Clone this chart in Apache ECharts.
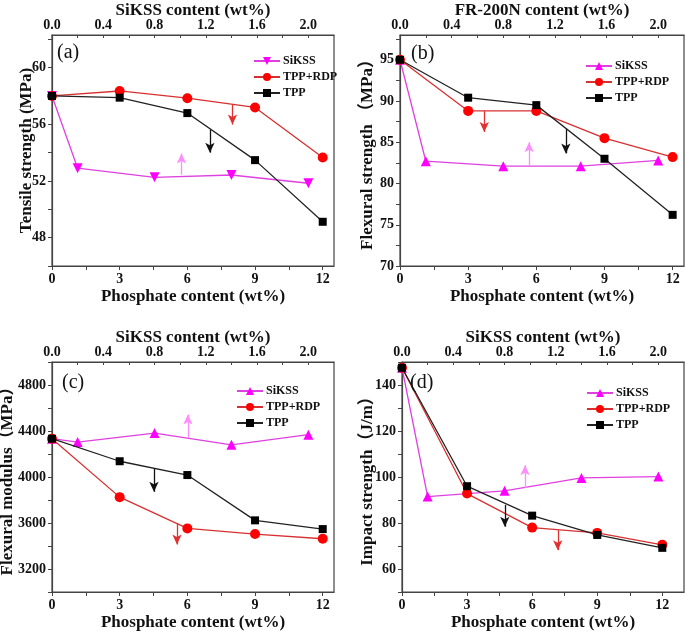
<!DOCTYPE html>
<html>
<head>
<meta charset="utf-8">
<script src="https://cdn.jsdelivr.net/npm/echarts@6/dist/echarts.min.js"></script>
<style>
  html, body { margin: 0; padding: 0; background: #fff; }
  #main { width: 685px; height: 631px; }
</style>
</head>
<body>
<div id="main"></div>
<script>
var chart = echarts.init(document.getElementById('main'));

// x positions
var phosphate = [0, 3, 6, 9, 12];
var siksContent = [0, 0.2, 0.8, 1.4, 2.0];

// (a) tensile strength, MPa
var aSiKSS = [58.0, 52.9, 52.26, 52.42, 51.84];
var aTppRdp = [58.0, 58.35, 57.84, 57.19, 53.65];
var aTpp = [58.0, 57.88, 56.79, 53.47, 49.12];
// (b) flexural strength, MPa
var bSiKSS = [95.0, 82.7, 82.1, 82.1, 82.8];
var bTppRdp = [95.0, 88.8, 88.8, 85.5, 83.2];
var bTpp = [95.0, 90.4, 89.5, 83.0, 76.2];
// (c) flexural modulus, MPa
var cSiKSS = [4333, 4304, 4382, 4280, 4368];
var cTppRdp = [4333, 3825, 3553, 3504, 3463];
var cTpp = [4333, 4137, 4017, 3623, 3547];
// (d) impact strength, J/m
var dSiKSS = [147.5, 91.5, 94.0, 99.6, 100.2];
var dTppRdp = [147.5, 92.8, 78.0, 75.7, 70.5];
var dTpp = [147.5, 96.0, 83.2, 74.8, 69.2];

// arrows [x, yFrom, yTo] in order SiKSS (top axis), TPP+RDP, TPP
var aArrows = [[1.01, 52.44, 53.93], [8.0, 57.37, 55.98], [7.0, 55.63, 54.0]];
var bArrows = [[1.0, 82.24, 85.0], [3.71, 88.78, 86.24], [7.3, 86.64, 83.65]];
var cArrows = [[1.06, 4339, 4543], [5.54, 3594, 3413], [4.52, 4070, 3871]];
var dArrows = [[0.96, 95.2, 105.1], [7.18, 76.9, 68.2], [4.74, 87.9, 78.4]];

// ticks and labels
var bottomTicks = [0, 1.5, 3, 4.5, 6, 7.5, 9, 10.5, 12];
var bottomLabels = [0, 3, 6, 9, 12];
var topTicks = [0, 0.2, 0.4, 0.6, 0.8, 1.0, 1.2, 1.4, 1.6, 1.8, 2.0];
var topLabels = [0, 0.4, 0.8, 1.2, 1.6, 2.0];
var aYTicks = [46, 48, 50, 52, 54, 56, 58, 60, 62];
var aYLabels = [48, 52, 56, 60];
var bYTicks = [70, 72.5, 75, 77.5, 80, 82.5, 85, 87.5, 90, 92.5, 95, 97.5];
var bYLabels = [70, 75, 80, 85, 90, 95];
var cYTicks = [3000, 3200, 3400, 3600, 3800, 4000, 4200, 4400, 4600, 4800, 5000];
var cYLabels = [3200, 3600, 4000, 4400, 4800];
var dYTicks = [50, 60, 70, 80, 90, 100, 110, 120, 130, 140, 150];
var dYLabels = [60, 80, 100, 120, 140];

var SERIF = '"Liberation Serif", "Times New Roman", "Noto Sans CJK SC", serif';
var AX = '#444';

var grids = [
    {left: 52, top: 35, width: 282, height: 231},
    {left: 400, top: 35, width: 284, height: 231},
    {left: 52, top: 362, width: 282, height: 230},
    {left: 402, top: 362, width: 282, height: 230}
];
grids.forEach(function (g) {
    g.show = true;
    g.borderColor = AX;
    g.borderWidth = 1.2;
    g.backgroundColor = 'transparent';
    g.containLabel = false;
    g.outerBoundsMode = 'none';
});

function plain(v) { return String(v); }

var nameFont = {fontFamily: SERIF, fontWeight: 'bold', fontSize: 17, color: '#111'};

function bottomAxis(i, max) {
    return {
        type: 'value', gridIndex: i, position: 'bottom', min: 0, max: max,
        name: 'Phosphate content (wt%)', nameLocation: 'middle', nameGap: 22, nameMoveOverlap: false,
        nameTextStyle: nameFont,
        axisLine: {show: true, onZero: false, lineStyle: {color: AX, width: 1.2}},
        axisTick: {show: true, length: 4, customValues: bottomTicks, lineStyle: {color: AX}},
        axisLabel: {customValues: bottomLabels, margin: 6, fontFamily: SERIF, fontWeight: 'bold', fontSize: 14, color: '#111', formatter: plain},
        splitLine: {show: false}
    };
}
function topAxis(i, title) {
    return {
        type: 'value', gridIndex: i, position: 'top', min: 0, max: 2.2,
        name: title, nameLocation: 'middle', nameGap: 16, nameMoveOverlap: false,
        nameTextStyle: nameFont,
        axisLine: {show: true, onZero: false, lineStyle: {color: AX, width: 1.2}},
        axisTick: {show: true, inside: true, length: 3, customValues: topTicks, lineStyle: {color: AX}},
        axisLabel: {customValues: topLabels, margin: 3, fontFamily: SERIF, fontWeight: 'bold', fontSize: 14, color: '#111',
            formatter: function (v) { return v.toFixed(1); }},
        splitLine: {show: false}
    };
}
function leftAxis(i, title, min, max, ticks, labels, gap) {
    return {
        type: 'value', gridIndex: i, min: min, max: max,
        name: title, nameLocation: 'middle', nameGap: gap, nameMoveOverlap: false,
        nameTextStyle: nameFont,
        axisLine: {show: true, onZero: false, lineStyle: {color: AX, width: 1.2}},
        axisTick: {show: true, length: 4, customValues: ticks, lineStyle: {color: AX}},
        axisLabel: {customValues: labels, margin: 6, fontFamily: SERIF, fontWeight: 'bold', fontSize: 14, color: '#111', formatter: plain},
        splitLine: {show: false}
    };
}

function arrow(a, color) {
    return {
        silent: true,
        symbol: ['none', 'arrow'],
        symbolSize: [7, 10],
        label: {show: false},
        lineStyle: {color: color, width: 1.3, type: 'solid'},
        data: [[{coord: [a[0], a[1]]}, {coord: [a[0], a[2]]}]]
    };
}

function pts(xs, ys) {
    return xs.map(function (x, i) { return [x, ys[i]]; });
}

function panelSeries(tag, k, siks, rdp, tpp, arrows, downTri) {
    return [
        {
            name: 'SiKSS#' + tag, type: 'line', xAxisIndex: 2 * k + 1, yAxisIndex: k,
            data: pts(siksContent, siks),
            symbol: 'triangle', symbolSize: 10, symbolRotate: downTri ? 180 : 0,
            itemStyle: {color: '#ff00ff'}, lineStyle: {color: '#e040e0', width: 1.3},
            markLine: arrow(arrows[0], '#ff8cff'), z: 3
        },
        {
            name: 'TPP+RDP#' + tag, type: 'line', xAxisIndex: 2 * k, yAxisIndex: k,
            data: pts(phosphate, rdp),
            symbol: 'circle', symbolSize: 10,
            itemStyle: {color: '#ff0000'}, lineStyle: {color: '#d83030', width: 1.3},
            markLine: arrow(arrows[1], '#e03030'), z: 4
        },
        {
            name: 'TPP#' + tag, type: 'line', xAxisIndex: 2 * k, yAxisIndex: k,
            data: pts(phosphate, tpp),
            symbol: 'rect', symbolSize: 8,
            itemStyle: {color: '#000'}, lineStyle: {color: '#222', width: 1.3},
            markLine: arrow(arrows[2], '#111'), z: 5
        }
    ];
}

function legend(tag, left, top) {
    return {
        orient: 'vertical', left: left, top: top, itemGap: 4,
        itemWidth: 26, itemHeight: 10, selectedMode: false,
        data: ['SiKSS#' + tag, 'TPP+RDP#' + tag, 'TPP#' + tag],
        formatter: function (n) { return n.split('#')[0]; },
        textStyle: {fontFamily: SERIF, fontWeight: 'bold', fontSize: 12, color: '#111', padding: [0, 0, 0, -2]}
    };
}

function panelTitle(text, left, top) {
    return {text: text, left: left, top: top, padding: 0,
        textStyle: {fontFamily: SERIF, fontWeight: 'normal', fontSize: 20, color: '#111'}};
}

chart.setOption({
    backgroundColor: '#fff',
    animation: false,
    title: [
        panelTitle('(a)', 57, 43),
        panelTitle('(b)', 411, 44),
        panelTitle('(c)', 62, 373),
        panelTitle('(d)', 410, 373)
    ],
    legend: [
        legend('a', 248, 50),
        legend('b', 580, 55),
        legend('c', 231, 380),
        legend('d', 581, 382)
    ],
    grid: grids,
    xAxis: [
        bottomAxis(0, 12.5), topAxis(0, 'SiKSS content (wt%)'),
        bottomAxis(1, 12.5), topAxis(1, 'FR-200N content (wt%)'),
        bottomAxis(2, 12.5), topAxis(2, 'SiKSS content (wt%)'),
        bottomAxis(3, 13), topAxis(3, 'SiKSS content (wt%)')
    ],
    yAxis: [
        leftAxis(0, 'Tensile strength (MPa)', 46, 62.3, aYTicks, aYLabels, 17),
        leftAxis(1, 'Flexural strength （MPa）', 70, 98, bYTicks, bYLabels, 24),
        leftAxis(2, 'Flexural modulus（MPa）', 3000, 5000, cYTicks, cYLabels, 36),
        leftAxis(3, 'Impact strength（J/m）', 50, 150, dYTicks, dYLabels, 26)
    ],
    series: [].concat(
        panelSeries('a', 0, aSiKSS, aTppRdp, aTpp, aArrows, true),
        panelSeries('b', 1, bSiKSS, bTppRdp, bTpp, bArrows, false),
        panelSeries('c', 2, cSiKSS, cTppRdp, cTpp, cArrows, false),
        panelSeries('d', 3, dSiKSS, dTppRdp, dTpp, dArrows, false)
    )
});
</script>
</body>
</html>
